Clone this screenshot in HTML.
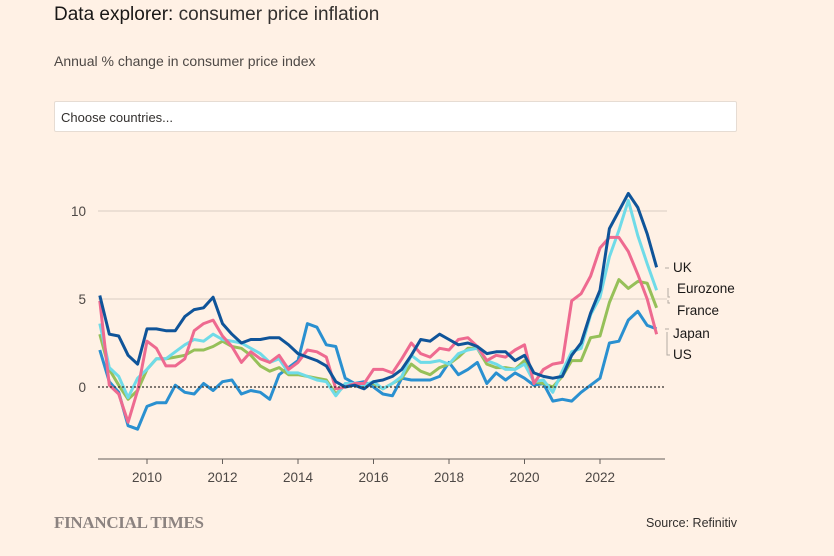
<!DOCTYPE html>
<html><head><meta charset="utf-8"><style>
body{margin:0;background:#fff1e5;width:834px;height:556px;overflow:hidden;font-family:"Liberation Sans",sans-serif;color:#33302e;position:relative}
.t{position:absolute;white-space:nowrap}
</style></head><body>
<div class="t" style="left:54px;top:4px;font-size:19px;color:#33302e"><b style="font-weight:normal;color:#1a1817">Data explorer:</b> consumer price inflation</div>
<div class="t" style="left:54px;top:53px;font-size:14px;color:#4d4845">Annual % change in consumer price index</div>
<div class="t" style="left:54px;top:101px;width:683px;height:31px;background:#fff;border:1px solid #e6dcd3;border-radius:2px;box-sizing:border-box;font-size:13px;line-height:31px;padding-left:6px;color:#33302e">Choose countries...</div>
<svg id="chart" width="834" height="556" style="position:absolute;left:0;top:0"></svg>
<div class="t" style="left:54px;top:513px;font-family:'Liberation Serif',serif;font-size:17px;font-weight:bold;color:#8c8380;letter-spacing:-0.3px">FINANCIAL TIMES</div>
<div class="t" style="right:97px;top:516px;font-size:12.5px;color:#33302e">Source: Refinitiv</div>
<script>
const years=[];for(let i=0;i<60;i++)years.push(2008.75+i*0.25);
const ukValues=[5.2,3.0,2.9,1.8,1.3,3.3,3.3,3.2,3.2,4.0,4.4,4.5,5.1,3.6,3.0,2.5,2.7,2.7,2.8,2.8,2.4,1.9,1.7,1.5,1.2,0.3,0.0,0.1,-0.1,0.3,0.4,0.6,1.0,1.8,2.7,2.6,3.0,2.7,2.4,2.5,2.3,1.9,2.0,2.0,1.5,1.8,0.8,0.6,0.5,0.6,1.8,2.5,4.2,5.5,9.0,10.0,11.0,10.2,8.7,6.8];
const eurozoneValues=[3.6,1.1,0.6,-0.6,0.5,1.0,1.6,1.6,2.0,2.4,2.7,2.6,3.0,2.7,2.6,2.5,2.2,1.9,1.4,1.6,0.8,0.8,0.6,0.4,0.3,-0.5,0.2,0.2,0.1,0.3,-0.1,0.2,0.6,1.8,1.4,1.4,1.5,1.3,1.9,2.1,2.2,1.5,1.3,1.0,1.0,1.3,0.3,0.4,-0.3,0.9,2.0,2.2,4.1,5.1,7.4,8.9,10.6,8.6,7.0,5.5];
const franceValues=[3.0,1.0,0.1,-0.7,-0.2,1.0,1.6,1.6,1.7,1.8,2.1,2.1,2.3,2.6,2.3,2.2,1.8,1.2,0.9,1.1,0.7,0.7,0.6,0.5,0.4,-0.4,0.1,0.2,0.1,0.2,-0.1,0.2,0.5,1.3,0.9,0.7,1.1,1.3,1.7,2.2,2.2,1.3,1.1,1.1,1.0,1.5,0.3,0.2,0.0,0.6,1.5,1.5,2.8,2.9,4.8,6.1,5.6,6.0,5.9,4.5];
const japanValues=[2.1,0.3,-0.3,-2.2,-2.4,-1.1,-0.9,-0.9,0.1,-0.3,-0.4,0.2,-0.2,0.3,0.4,-0.4,-0.2,-0.3,-0.7,0.7,1.1,1.5,3.6,3.4,2.4,2.3,0.5,0.2,0.3,0.0,-0.4,-0.5,0.5,0.4,0.4,0.4,0.6,1.4,0.7,1.0,1.4,0.2,0.8,0.4,0.8,0.5,0.1,0.2,-0.8,-0.7,-0.8,-0.3,0.1,0.5,2.5,2.6,3.8,4.3,3.5,3.3];
const usValues=[4.9,0.1,-0.4,-2.0,-0.2,2.6,2.2,1.2,1.2,1.6,3.2,3.6,3.8,2.9,2.3,1.4,2.0,1.6,1.4,1.8,1.0,1.4,2.1,2.0,1.7,-0.1,0.0,0.2,0.2,1.0,1.0,0.8,1.6,2.5,1.9,1.7,2.2,2.1,2.7,2.8,2.3,1.5,1.8,1.7,2.1,2.4,0.2,1.0,1.3,1.4,4.9,5.3,6.3,7.9,8.5,8.5,7.7,6.4,5.0,3.0];
const yTicks=[0,5,10];
const xTicks=[2010,2012,2014,2016,2018,2020,2022];
const NS='http://www.w3.org/2000/svg';
const svg=document.getElementById('chart');
const X=y=>147+(y-2010)*37.75;
const Y=v=>387-v*17.6;
function mk(t,a){const e=document.createElementNS(NS,t);for(const k in a)e.setAttribute(k,a[k]);svg.appendChild(e);return e;}
yTicks.forEach(v=>{
  if(v!==0){const g=mk('line',{x1:98,x2:667,y1:Y(v),y2:Y(v),stroke:'#d9cdc3','stroke-width':1});
  
  }
  const t=mk('text',{x:86,y:Y(v)+5,'text-anchor':'end','font-size':13.5,fill:'#4d4845','font-family':'Liberation Sans'});t.textContent=v;
  
  
});
const ax=mk('line',{x1:98,x2:665,y1:459,y2:459,stroke:'#66605c','stroke-width':1});


xTicks.forEach(yr=>{
  const tk=mk('line',{x1:X(yr),x2:X(yr),y1:459,y2:464,stroke:'#66605c'});
  
  
  const t=mk('text',{x:X(yr),y:482,'text-anchor':'middle','font-size':13.5,fill:'#4d4845','font-family':'Liberation Sans'});t.textContent=yr;
  
  
});
const series=[
 {n:'japan',v:japanValues,c:'#2a90d0'},
 {n:'france',v:franceValues,c:'#96c059'},
 {n:'eurozone',v:eurozoneValues,c:'#6fdbe8'},
 {n:'us',v:usValues,c:'#ee6a90'},
 {n:'uk',v:ukValues,c:'#0f5499'}];
series.forEach(s=>{
  const d=s.v.map((v,i)=>(i?'L':'M')+X(years[i]).toFixed(1)+','+Y(v).toFixed(1)).join('');
  const p=mk('path',{d:d,fill:'none',stroke:s.c,'stroke-width':3,'stroke-linejoin':'round'});
  
  
});
const z=mk('line',{x1:98,x2:665,y1:Y(0),y2:Y(0),stroke:'#33302e','stroke-width':1.3,'stroke-dasharray':'2,2'});


const labels=[['UK',272],['Eurozone',293],['France',315],['Japan',338],['US',359]];
const lx=[673,677,677,673,673];
labels.forEach((l,i)=>{
  const t=mk('text',{x:lx[i],y:l[1],'font-size':13.5,fill:'#1a1817','font-family':'Liberation Sans'});t.textContent=l[0];
  
  
});
const conn=mk('path',{d:'M665,268H669M668,288V297H670M668,300V303H670M665,329H669M667,332V355H670',fill:'none',stroke:'#b3aaa3','stroke-width':1});


</script>
</body></html>
